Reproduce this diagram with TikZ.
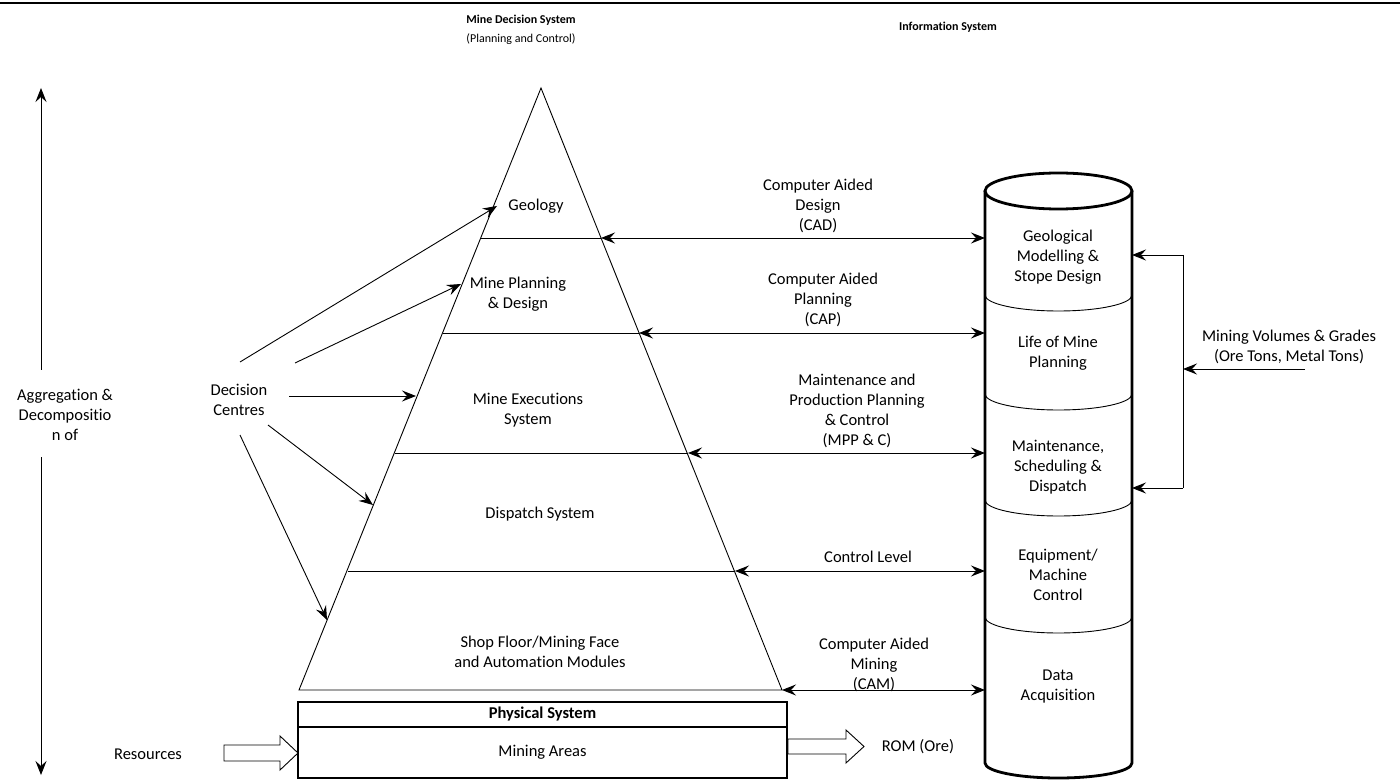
\documentclass[tikz,border=0pt]{standalone}
\usepackage{fontspec}
\setmainfont{Carlito}[Ligatures=NoCommon]
\usetikzlibrary{arrows.meta}
\newcommand{\lblfont}{\fontsize{16.5}{20}\selectfont}
\newcommand{\hdfont}{\fontsize{12}{18.5}\selectfont}
\tikzset{
  lbl/.style={font=\lblfont, align=center, inner sep=1pt},
  hd/.style={font=\hdfont, align=center, inner sep=1pt},
  thin line/.style={line width=0.9pt},
  thick line/.style={line width=2.8pt},
}

\begin{document}
\begin{tikzpicture}[x=1pt,y=-1pt,>={Stealth[length=14pt,width=11pt,inset=5pt]}]
\useasboundingbox (0,0) rectangle (1400,783);
\draw[line width=2.2pt] (0,3) -- (1400,3);

% headings
\node[hd] (h1) at (521,20) {\textbf{Mine Decision System}};
\node[hd] (h1_d) at (521,39) {(Planning and Control)};
\node[hd] (h2) at (948,27) {\textbf{Information System}};

% aggregation arrow on the left
\coordinate (a_top) at (41,88);
\coordinate (a_up) at (41,370);
\coordinate (a_dn) at (41,457);
\coordinate (a_bot) at (41,775);
\node[lbl] (aggr) at (65,415) {Aggregation \&\\Decompositio\\n of};
\draw[->,thin line] (a_up) -- (a_top);
\draw[->,thin line] (a_dn) -- (a_bot);

% pyramid
\coordinate (apex) at (541,88);
\coordinate (bl) at (299,690);
\coordinate (br) at (782,690);
\draw[thin line] (apex) -- (bl) -- (br) -- cycle;

\coordinate (pl1) at (481,238); \coordinate (pr1) at (601,238);
\coordinate (pl2) at (443,333); \coordinate (pr2) at (639,333);
\coordinate (pl3) at (395,453); \coordinate (pr3) at (688,453);
\coordinate (pl4) at (348,571); \coordinate (pr4) at (735,571);
\coordinate (pr5) at (782,690);
\draw[thin line] (pl1) -- (pr1);
\draw[thin line] (pl2) -- (pr2);
\draw[thin line] (pl3) -- (pr3);
\draw[thin line] (pl4) -- (pr4);

\node[lbl] (geo) at (536,206) {Geology};
\node[lbl] (mpd) at (518,294.5) {Mine Planning\\\& Design};
\node[lbl] (mes) at (528,410) {Mine Executions\\System};
\node[lbl] (dsp) at (540,514) {Dispatch System};
\node[lbl] (sfm) at (540,652) {Shop Floor/Mining Face\\and Automation Modules};

% decision centres
\node[lbl] (dc) at (239,399.5) {Decision\\Centres};
\coordinate (dc1) at (240,362); \coordinate (pt1) at (497,206);
\coordinate (dc2) at (295,363); \coordinate (pt2) at (461,284);
\coordinate (dc3) at (289,396); \coordinate (pt3) at (416,396);
\coordinate (dc4) at (268,425); \coordinate (pt4) at (373,505);
\coordinate (dc5) at (240,435); \coordinate (pt5) at (327,620);
\foreach \i in {1,...,5}
  \draw[->,thin line] (dc\i) -- (pt\i);

% information system cylinder
\coordinate (ct) at (1058.5,191);
\coordinate (cb) at (1058.5,763);
\draw[thick line] (985,191) -- (985,763)
  arc[start angle=180,end angle=360,x radius=73.5pt,y radius=15pt]
  -- (1132,191);
\draw[thick line] (ct) ellipse[x radius=73.5pt,y radius=18pt];
\foreach \y in {295,394,500,617}
  \draw[thin line] (985,\y) arc[start angle=180,end angle=360,x radius=73.5pt,y radius=16pt];

\node[lbl] (gms) at (1058,257) {Geological\\Modelling \&\\Stope Design};
\node[lbl] (lom) at (1058,353) {Life of Mine\\Planning};
\node[lbl] (msd) at (1058,467) {Maintenance,\\Scheduling \&\\Dispatch};
\node[lbl] (emc) at (1058,575) {Equipment/\\Machine\\Control};
\node[lbl] (daq) at (1058,687) {Data\\Acquisition};

\coordinate (cl1) at (985,238);
\coordinate (cl2) at (985,333);
\coordinate (cl3) at (985,453);
\coordinate (cl4) at (985,571);
\coordinate (cl5) at (985,690);
\foreach \i in {1,...,5}
  \draw[<->,thin line] (pr\i) -- (cl\i);

\node[lbl] (cad) at (818,205.5) {Computer Aided\\Design\\(CAD)};
\node[lbl] (cap) at (823,300) {Computer Aided\\Planning\\(CAP)};
\node[lbl] (mpc) at (857,411) {Maintenance and\\Production Planning\\\& Control\\(MPP \& C)};
\node[lbl] (ctl) at (868,557) {Control Level};
\node[lbl] (cam) at (874,665) {Computer Aided\\Mining\\(CAM)};

% feedback of volumes and grades
\coordinate (cr1) at (1132,255);
\coordinate (cr2) at (1132,488);
\coordinate (fb1) at (1183,255);
\coordinate (fb2) at (1183,488);
\coordinate (fbm) at (1183,369);
\coordinate (mv_s) at (1305,369);
\draw[thin line] (fb1) -- (fb2);
\draw[->,thin line] (fb1) -- (cr1);
\draw[->,thin line] (fb2) -- (cr2);
\draw[->,thin line] (mv_s) -- (fbm);
\node[lbl] (mvg) at (1289,346.5) {Mining Volumes \& Grades\\(Ore Tons, Metal Tons)};

% physical system
\node[thick line, draw, minimum width=489pt, minimum height=25pt, inner sep=0pt] (phys) at (542.5,714.5) {};
\node[thick line, draw, minimum width=489pt, minimum height=51pt, inner sep=0pt] (area) at (542.5,752.5) {};
\node[lbl] at (phys) {\textbf{Physical System}};
\node[lbl] at (area) {Mining Areas};

\node[lbl] (res) at (148,754) {Resources};
\draw[thin line] (224,745) -- (280,745) -- (280,736) -- (298,753)
  -- (280,770) -- (280,761) -- (224,761) -- cycle;

\node[lbl] (rom) at (918,747) {ROM (Ore)};
\draw[thin line] (788,739) -- (846,739) -- (846,730) -- (864,746.5)
  -- (846,763) -- (846,754) -- (788,754) -- cycle;
\end{tikzpicture}
\end{document}
